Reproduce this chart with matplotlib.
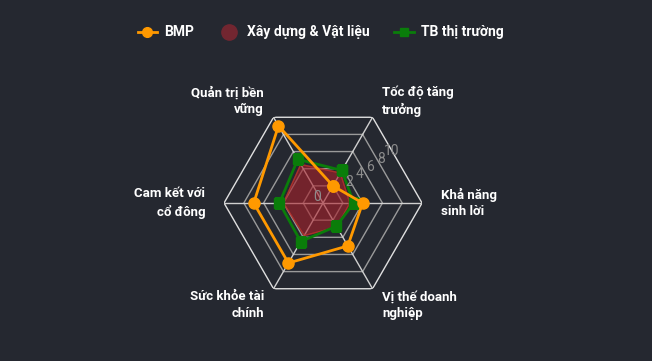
import numpy as np
import matplotlib.pyplot as plt
from matplotlib.lines import Line2D

plt.rcParams['font.family'] = ['Roboto', 'DejaVu Sans']

BG = "#252830"

categories = ["Tốc độ tăng\ntrưởng", "Khả năng\nsinh lời", "Vị thế doanh\nnghiệp",
              "Sức khỏe tài\nchính", "Cam kết với\ncổ đông", "Quản trị bền\nvững"]
bmp = [2.0, 4.0, 5.0, 7.0, 7.0, 9.0]
nganh = [3.5, 2.7, 2.8, 3.8, 4.0, 4.5]
tb = [3.8, 3.1, 2.7, 4.5, 4.4, 5.1]
ticks = [0, 2, 4, 6, 8, 10]

n = len(categories)
theta = np.arange(n) * 2 * np.pi / n
th = np.append(theta, theta[0])


def close(v):
    return np.append(v, v[0])


fig = plt.figure(figsize=(6.52, 3.61), dpi=100, facecolor=BG)
ax = fig.add_axes([0.3436, 0.1634, 0.3037, 0.5485], projection='polar')
ax.set_facecolor(BG)
ax.set_theta_offset(np.pi / 3)
ax.set_theta_direction(-1)
ax.set_ylim(0, 10)
ax.grid(False)
ax.spines['polar'].set_visible(False)
ax.set_xticks([])
ax.set_yticks([])
ax.patch.set_alpha(0)

# hexagonal grid
for t in ticks[1:]:
    col = "#e0e0e0" if t == 10 else "#9a9a9a"
    ax.plot(th, [t] * (n + 1), color=col, lw=1, zorder=1)
for a in theta:
    ax.plot([a, a], [0, 10], color="#d0d0d0", lw=1, zorder=1)

ax.fill(th, close(nganh), color="#a8202a", alpha=0.6, zorder=2)
ax.plot(th, close(nganh), color="#c0392b", alpha=0.6, lw=1, zorder=2)
ax.plot(th, close(tb), color="#0a7d0a", lw=2, marker='s', ms=7, zorder=3)
ax.plot(th, close(bmp), color="#ff9900", lw=2, marker='o', ms=8, zorder=4)

# radial tick labels
for v in ticks:
    if v == 0:
        x, y = 0.47, 0.53
    else:
        x = 0.5 + (15 + 5.4 * v) / 198
        y = 0.5 + (13 + 3.9 * v) / 198
    ax.text(x, y, str(v), transform=ax.transAxes, color="#8c8c8c", fontsize=10,
            ha='center', va='center', zorder=5)

# axis labels
for a, lab in zip(theta, categories):
    disp = np.pi / 3 - a
    c = np.cos(disp)
    ha = 'left' if c > 0.1 else ('right' if c < -0.1 else 'center')
    ax.text(a, 11.9, lab, color="white", fontsize=9.5, fontweight='bold',
            ha=ha, va='center', multialignment=ha, linespacing=1.35)

handles = [
    Line2D([], [], color="#ff9900", lw=2, marker='o', ms=7),
    Line2D([], [], color="#722630", lw=0, marker='o', ms=11),
    Line2D([], [], color="#0a7d0a", lw=2, marker='s', ms=6),
]
leg = fig.legend(handles, ["BMP", "Xây dựng & Vật liệu", "TB thị trường"],
                 loc='center', bbox_to_anchor=(0.492, 0.91), ncol=3, frameon=False,
                 handlelength=1.4, columnspacing=1.8, handletextpad=0.55,
                 prop={'weight': 'bold', 'size': 10})
for t in leg.get_texts():
    t.set_color("white")

fig.savefig("out.png", dpi=100, facecolor=BG)
